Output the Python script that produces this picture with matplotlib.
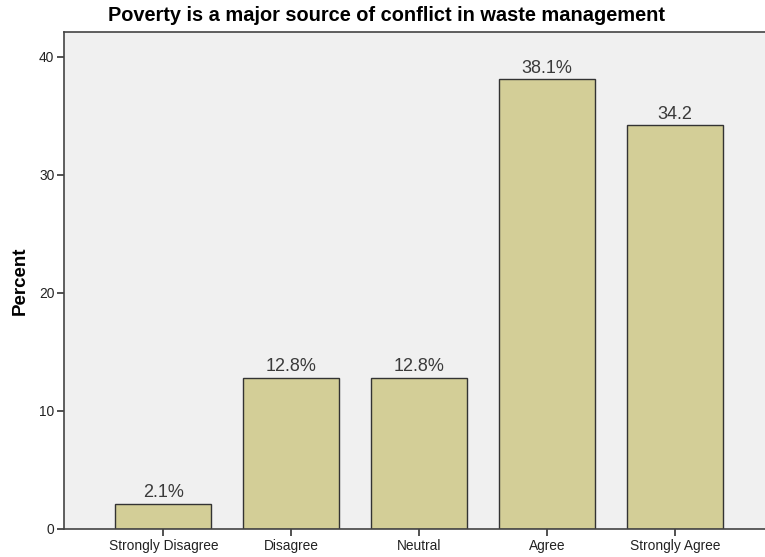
import matplotlib
matplotlib.use("Agg")
from matplotlib import pyplot as plt

categories = ["Strongly Disagree", "Disagree", "Neutral", "Agree", "Strongly Agree"]
percents = [2.1, 12.8, 12.8, 38.1, 34.2]
bar_labels = ["2.1%", "12.8%", "12.8%", "38.1%", "34.2"]
y_ticks = [0, 10, 20, 30, 40]

plt.rcParams['font.family'] = ['Liberation Sans', 'DejaVu Sans']

W, H = 765, 557
fig = plt.figure(figsize=(W / 100, H / 100), dpi=100)
# plot area runs off the right edge of the canvas
left, right, top, bottom = 64, 774.5, 32, 529
ax = fig.add_axes([left / W, (H - bottom) / H, (right - left) / W, (bottom - top) / H])
ax.set_facecolor("#f0f0f0")

x = range(len(categories))
bars = ax.bar(x, percents, width=0.75, color="#d3ce97", edgecolor="#333333", linewidth=1.0)
for b, txt in zip(bars, bar_labels):
    ax.annotate(txt, (b.get_x() + b.get_width() / 2, b.get_height()),
                xytext=(0, 2), textcoords="offset points",
                ha="center", va="bottom", fontsize=13, color="#3a3a3a")

ax.set_xlim(-0.777, len(categories) - 1 + 0.777)
ax.set_ylim(0, (bottom - top) / 11.8)
ax.set_xticks(list(x))
ax.set_xticklabels(categories, fontsize=9.9, color="#222222")
ax.set_yticks(y_ticks)
ax.set_yticklabels([str(t) for t in y_ticks], fontsize=9.9, color="#222222")
ax.tick_params(axis="both", direction="out", length=5, width=1.2, color="#333333", pad=2)

for side in ["left", "top", "bottom", "right"]:
    ax.spines[side].set_color("#444444")
    ax.spines[side].set_linewidth(1.2)

ax.set_ylabel("Percent", fontsize=13.5, fontweight="bold", labelpad=7)
fig.text(0.505, 1 - 15.5 / H, "Poverty is a major source of conflict in waste management",
         ha="center", va="center", fontsize=14.4, fontweight="bold")

fig.savefig("out.png", dpi=100)
